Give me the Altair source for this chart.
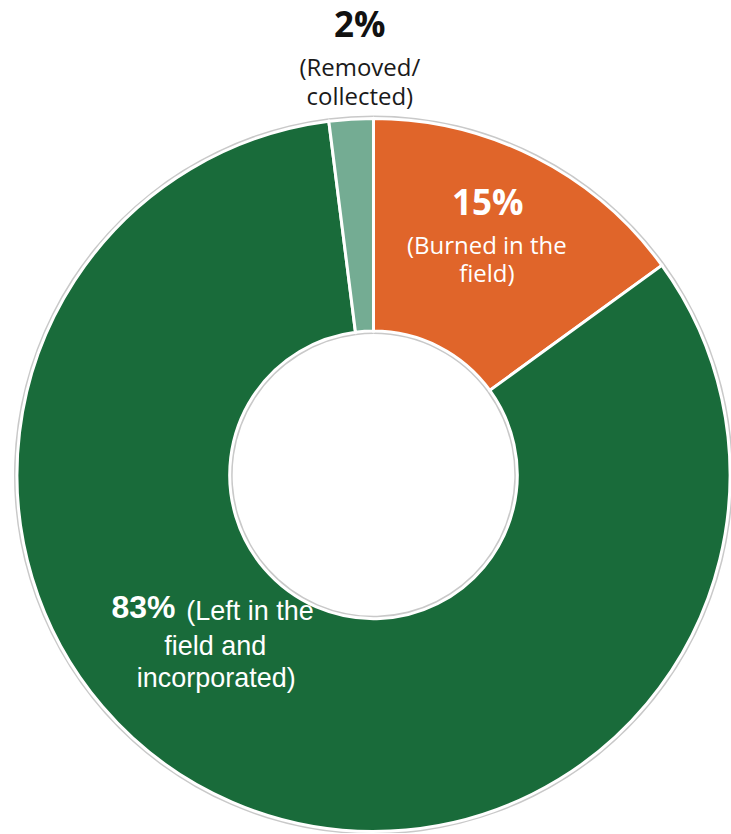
import altair as alt
import pandas as pd

categories = ["Burned in the field", "Left in the field and incorporated", "Removed/collected"]
values = [15, 83, 2]
colors = ["#E0652A", "#196B3A", "#74AC93"]
pct_labels = ["15%", "83%", "2%"]
line1 = ["(Burned in the", "(Left in the", "(Removed/"]
line2 = ["field)", "field and", "collected)"]
line3 = ["", "incorporated)", ""]

df = pd.DataFrame({
    "category": categories,
    "value": values,
    "idx": list(range(len(categories))),
    "pct": pct_labels,
    "l1": line1,
    "l2": line2,
    "l3": line3,
})

base = alt.Chart(df)

outline = base.mark_arc(outerRadius=360, innerRadius=141, fill="#c9c9c9", strokeWidth=0).encode(
    theta=alt.Theta("value:Q", stack=True),
    order=alt.Order("idx:Q"),
)

donut = base.mark_arc(outerRadius=357, innerRadius=144, stroke="white", strokeWidth=3).encode(
    theta=alt.Theta("value:Q", stack=True),
    color=alt.Color("category:N", scale=alt.Scale(domain=categories, range=colors), legend=None),
    order=alt.Order("idx:Q"),
)


def txt(i, field, radius, dx, dy, size, weight, color, font, align="center", theta_offset=None):
    mk = dict(radius=radius, dx=dx, dy=dy, fontSize=size, fontWeight=weight, color=color,
              font=font, align=align, baseline="alphabetic")
    if theta_offset is not None:
        mk["thetaOffset"] = theta_offset
    return (
        base.transform_window(cum="sum(value)", sort=[alt.SortField("idx")])
        .transform_calculate(mid="datum.cum - datum.value / 2")
        .transform_filter(f"datum.idx == {i}")
        .mark_text(**mk)
        .encode(theta=alt.Theta("mid:Q", stack=False), text=alt.Text(f"{field}:N"))
    )


OS = "Open Sans"
LS = "Liberation Sans"

labels = [
    # Burned (slice 0)
    txt(0, "pct", 261, -4, -28, 35, "bold", "white", OS),
    txt(0, "l1", 261, -5, 11, 24, "normal", "white", OS),
    txt(0, "l2", 261, -5, 39, 24, "normal", "white", OS),
    # Left in field (slice 1)
    txt(1, "pct", 223, -114, -23, 32, "bold", "white", LS, align="left", theta_offset=0.32),
    txt(1, "l1", 223, -39, -21, 27, "normal", "white", LS, align="left", theta_offset=0.32),
    txt(1, "l2", 223, -10, 14, 27, "normal", "white", LS, theta_offset=0.32),
    txt(1, "l3", 223, -9, 46, 27, "normal", "white", LS, theta_offset=0.32),
    # Removed (slice 2)
    txt(2, "pct", 409, 12, -30, 35, "bold", "#111111", OS),
    txt(2, "l1", 409, 12, 9, 24, "normal", "#1a1a1a", OS),
    txt(2, "l2", 409, 12, 38, 24, "normal", "#1a1a1a", OS),
]

chart = (
    alt.layer(outline, donut, *labels)
    .properties(
        width=716,
        height=716,
        autosize="none",
        padding={"left": 16, "top": 117, "right": 0, "bottom": 0},
        background="white",
    )
    .configure_view(strokeWidth=0)
)

chart.save("out.html", embed_options={"renderer": "svg", "actions": False})
